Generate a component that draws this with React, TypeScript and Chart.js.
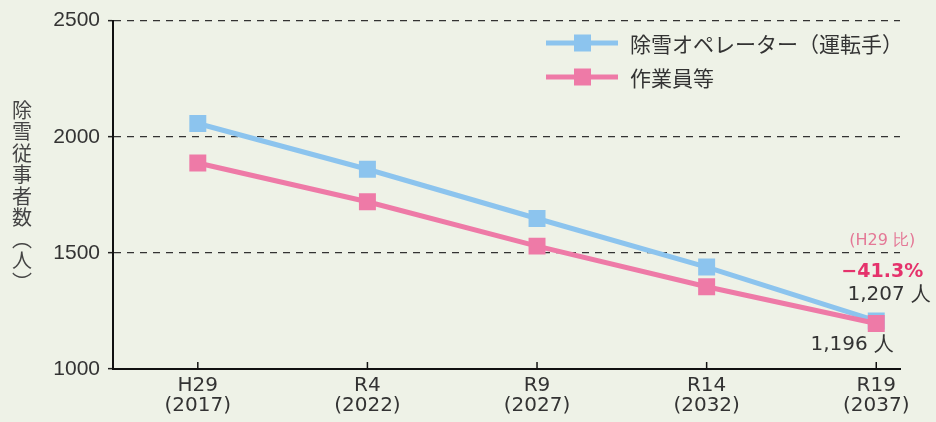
import React, { useEffect, useRef } from "react";
import { Chart, registerables } from "chart.js";

Chart.register(...registerables);

const categories = ["H29", "R4", "R9", "R14", "R19"];
const years = ["(2017)", "(2022)", "(2027)", "(2032)", "(2037)"];
const operators = [2057, 1860, 1648, 1439, 1207];
const workers = [1887, 1720, 1529, 1354, 1196];
const yTicks = [1000, 1500, 2000, 2500];
const seriesNames = ["除雪オペレーター（運転手）", "作業員等"];
const yTitleChars = ["除", "雪", "従", "事", "者", "数", "︵", "人", "︶"];
const changeBase = "(H29 比)";
const changeValue = "−41.3%";
const unit = "人";

const BLUE = "#8cc4ee";
const PINK = "#ee7aa7";
const TEXT = "#333333";
const BG = "#eef2e7";
const CJK = '"Noto Sans CJK JP", "Noto Sans", sans-serif';
const LATIN = '"DejaVu Sans", Verdana, sans-serif';

const decorPlugin = {
  id: "decor",
  afterDraw(chart: any) {
    const ctx = chart.ctx;
    const xs = chart.scales.x;
    const ys = chart.scales.y;
    const area = chart.chartArea;
    ctx.save();

    // inward x tick marks
    ctx.strokeStyle = "#111";
    ctx.lineWidth = 1.5;
    categories.forEach((_, i) => {
      const px = xs.getPixelForValue(i);
      ctx.beginPath();
      ctx.moveTo(px, area.bottom);
      ctx.lineTo(px, area.bottom - 7);
      ctx.stroke();
    });

    // vertical y title
    ctx.fillStyle = "#444";
    ctx.font = `20px ${CJK}`;
    ctx.textAlign = "center";
    ctx.textBaseline = "middle";
    yTitleChars.forEach((c, i) => {
      ctx.fillText(c, 22, 110 + i * 21.5);
    });

    // legend
    const legendRows = [
      { name: seriesNames[0], color: BLUE, y: 43 },
      { name: seriesNames[1], color: PINK, y: 77 },
    ];
    legendRows.forEach((r) => {
      ctx.strokeStyle = r.color;
      ctx.lineWidth = 5;
      ctx.beginPath();
      ctx.moveTo(546, r.y);
      ctx.lineTo(618, r.y);
      ctx.stroke();
      ctx.fillStyle = r.color;
      ctx.fillRect(574, r.y - 8.5, 17, 17);
      ctx.fillStyle = TEXT;
      ctx.font = `21px ${CJK}`;
      ctx.textAlign = "left";
      ctx.textBaseline = "middle";
      ctx.fillText(r.name, 630, r.y + 1);
    });

    // end annotations
    const last = categories.length - 1;
    const px = xs.getPixelForValue(last);
    const pyOp = ys.getPixelForValue(operators[last]);
    const pyWk = ys.getPixelForValue(workers[last]);
    ctx.textAlign = "center";
    ctx.textBaseline = "middle";
    ctx.fillStyle = "#e47896";
    ctx.font = `16px ${LATIN}`;
    ctx.fillText(changeBase, px + 6, pyOp - 80);
    ctx.fillStyle = "#e5336c";
    ctx.font = `bold 19px ${LATIN}`;
    ctx.fillText(changeValue, px + 6, pyOp - 49);
    ctx.fillStyle = TEXT;
    ctx.font = `20px ${LATIN}`;
    ctx.fillText(`${operators[last].toLocaleString("en-US")} ${unit}`, px + 13, pyOp - 26);
    ctx.fillText(`${workers[last].toLocaleString("en-US")} ${unit}`, px - 24, pyWk + 21);

    ctx.restore();
  },
};

export default function App() {
  const canvasRef = useRef<HTMLCanvasElement>(null);

  useEffect(() => {
    document.body.style.margin = "0";
    document.body.style.background = BG;
    const canvas = canvasRef.current;
    if (!canvas) return;
    const chart = new Chart(canvas, {
      type: "line",
      data: {
        datasets: [
          {
            label: seriesNames[0],
            data: operators.map((v, i) => ({ x: i, y: v })),
            borderColor: BLUE,
            backgroundColor: BLUE,
            borderWidth: 5,
            pointStyle: "rect",
            pointRadius: 12,
            pointBorderWidth: 0,
            pointBackgroundColor: BLUE,
            order: 1,
          },
          {
            label: seriesNames[1],
            data: workers.map((v, i) => ({ x: i, y: v })),
            borderColor: PINK,
            backgroundColor: PINK,
            borderWidth: 5,
            pointStyle: "rect",
            pointRadius: 12,
            pointBorderWidth: 0,
            pointBackgroundColor: PINK,
            order: 0,
          },
        ],
      },
      options: {
        animation: false,
        responsive: false,
        devicePixelRatio: 1,
        layout: { padding: { top: 17, right: 36, left: 0, bottom: 0 } },
        plugins: {
          legend: { display: false },
          tooltip: { enabled: false },
        },
        scales: {
          x: {
            type: "linear",
            min: -0.5,
            max: 4.14,
            afterBuildTicks: (scale: any) => {
              scale.ticks = categories.map((_, i) => ({ value: i }));
            },
            afterFit: (scale: any) => {
              scale.height = 53;
            },
            grid: { display: false, drawTicks: false },
            border: { display: true, color: "#111", width: 2 },
            ticks: {
              padding: 7,
              color: TEXT,
              font: { family: LATIN, size: 20, lineHeight: 1.0 },
              callback: (v: any) => [categories[v], years[v]],
              maxRotation: 0,
              autoSkip: false,
            },
          },
          y: {
            type: "linear",
            min: 1000,
            max: 2500,
            afterBuildTicks: (scale: any) => {
              scale.ticks = yTicks.map((v) => ({ value: v }));
            },
            afterFit: (scale: any) => {
              scale.width = 113;
            },
            grid: {
              color: (c: any) => (c.tick && c.tick.value === 1000 ? "rgba(0,0,0,0)" : "#333"),
              lineWidth: 1.3,
              drawTicks: true,
              tickLength: 5,
              tickColor: "#222",
              tickWidth: 1.5,
              tickBorderDash: [],
            },
            border: { display: true, color: "#111", width: 2, dash: [7, 6] },
            ticks: {
              padding: 8,
              color: TEXT,
              font: { family: '"Liberation Sans", Arial, sans-serif', size: 21 },
              callback: (v: any) => String(v),
            },
          },
        },
      },
      plugins: [decorPlugin],
    } as any);
    return () => chart.destroy();
  }, []);

  return (
    <div style={{ width: 936, height: 422, background: BG }}>
      <canvas ref={canvasRef} width={936} height={422} style={{ display: "block" }} />
    </div>
  );
}
